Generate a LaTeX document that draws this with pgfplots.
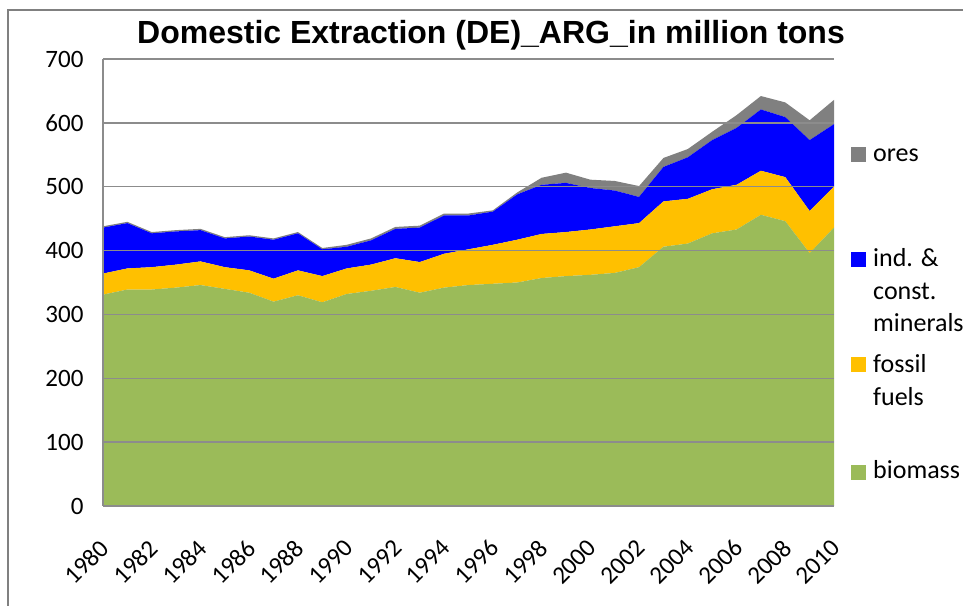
\documentclass[border=0pt]{standalone}
\usepackage{pgfplots}
\usepackage{pgfplotstable}
\pgfplotsset{compat=1.18}
\usepackage{fontspec}
\setmainfont{Carlito}
\newfontfamily\titlefont{Liberation Sans}

\definecolor{biomass}{HTML}{9BBB59}
\definecolor{fossil}{HTML}{FFC000}
\definecolor{minerals}{HTML}{0000FF}
\definecolor{ores}{HTML}{808080}
\definecolor{gridgray}{HTML}{8C8C8C}

% DE Argentina, million tons
\pgfplotstableread{
year bio fos min ore
1980 331 33 72 2
1981 339 33 71 2
1982 339 35 53 2
1983 342 36 52 2
1984 346 37 49 2
1985 340 34 45 2
1986 334 35 53 2
1987 320 36 61 2
1988 330 39 58 2
1989 319 41 42 2
1990 332 40 34 3
1991 337 41 38 3
1992 343 45 46 3
1993 334 48 54 3
1994 342 53 60 3
1995 346 56 53 3
1996 348 61 52 2
1997 350 67 71 3
1998 357 69 77 11
1999 360 69 77 16
2000 362 71 65 13
2001 365 73 56 15
2002 374 69 41 17
2003 406 71 54 14
2004 411 70 65 13
2005 427 69 77 13
2006 433 70 89 20
2007 456 69 96 21
2008 446 69 94 23
2009 396 66 111 31
2010 436 64 98 38
}\datatable

\begin{document}
\begin{tikzpicture}
\useasboundingbox (0,0) rectangle (963bp,606bp);
\clip (0,0) rectangle (963bp,606bp);
\fill[white] (0,0) rectangle (963bp,606bp);
\draw[gray, line width=1.5bp] (8bp,596bp) rectangle (1100bp,-50bp);

\begin{axis}[
at={(103bp,100bp)}, anchor=south west,
scale only axis,
width=731bp, height=447bp,
xmin=1980, xmax=2010,
ymin=0, ymax=700,
stack plots=y,
area style,
xtick={1980,1982,...,2010},
ytick={0,100,...,700},
axis x line*=bottom,
axis y line*=left,
axis line style={gridgray, line width=1.5bp},
ymajorgrids,
grid style={gridgray, line width=1.5bp},
major tick length=0pt,
/pgf/number format/assume math mode=true,
x tick label style={/pgf/number format/1000 sep={}, font=\fontsize{25bp}{30bp}\selectfont,
  inner sep=0pt, xshift=2bp, yshift=-38bp, rotate=45, anchor=east},
y tick label style={font=\fontsize{25bp}{30bp}\selectfont, xshift=-16bp},
]
\addplot[fill=biomass, draw=none] table[x=year, y=bio] {\datatable} \closedcycle;
\addplot[fill=fossil, draw=none] table[x=year, y=fos] {\datatable} \closedcycle;
\addplot[fill=minerals, draw=none] table[x=year, y=min] {\datatable} \closedcycle;
\addplot[fill=ores, draw=none] table[x=year, y=ore] {\datatable} \closedcycle;
\end{axis}

% title
\node[anchor=base, font=\titlefont\bfseries\fontsize{32bp}{36bp}\selectfont]
  at (491bp,562bp) {Domestic Extraction (DE)\_ARG\_in million tons};

% legend
\begin{scope}[every node/.style={anchor=base west, inner sep=0pt,
  font=\fontsize{26bp}{33bp}\selectfont}]
\fill[ores] (851bp,444bp) rectangle (866bp,459bp);
\node at (873bp,444bp) {ores};
\fill[minerals] (851bp,339bp) rectangle (866bp,354bp);
\node at (873bp,339bp) {ind. \&};
\node at (873bp,306bp) {const.};
\node at (873bp,274bp) {minerals};
\fill[fossil] (851bp,234bp) rectangle (866bp,249bp);
\node at (873bp,233bp) {fossil};
\node at (873bp,200bp) {fuels};
\fill[biomass] (851bp,126bp) rectangle (866bp,141bp);
\node at (873bp,127bp) {biomass};
\end{scope}
\end{tikzpicture}
\end{document}
